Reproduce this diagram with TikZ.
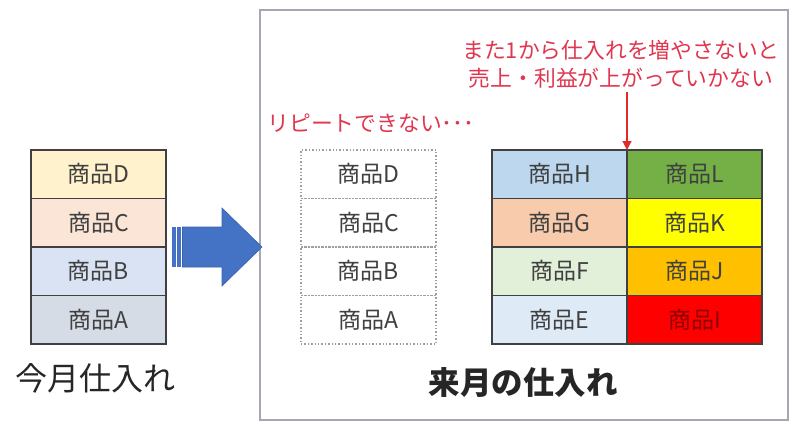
\documentclass[tikz,border=0pt]{standalone}
\usepackage{fontspec}
\setmainfont{Noto Sans CJK JP}
\usepackage{xcolor}
\definecolor{cText}{HTML}{404040}
\definecolor{cFrame}{HTML}{A4A8B4}
\definecolor{cNote}{HTML}{E0364F}
\definecolor{cNoteLine}{HTML}{E02A2A}
\definecolor{cArrow}{HTML}{4472C4}
\definecolor{cD}{HTML}{FFF2CC}
\definecolor{cC}{HTML}{FBE5D6}
\definecolor{cB}{HTML}{DAE3F3}
\definecolor{cA}{HTML}{D6DCE5}
\definecolor{cH}{HTML}{BDD7EE}
\definecolor{cG}{HTML}{F8CBAD}
\definecolor{cF}{HTML}{E2F0D9}
\definecolor{cE}{HTML}{DEEBF7}
\definecolor{cL}{HTML}{74B046}
\definecolor{cK}{HTML}{FFFF00}
\definecolor{cJ}{HTML}{FFC000}
\definecolor{cI}{HTML}{FF0000}
\usepackage{tikz}
\usetikzlibrary{positioning,arrows.meta}
\tikzset{
  item-box/.style={draw=cText,line width=1.4pt,minimum width=135pt,
    minimum height=48.5pt,inner sep=0pt,outer sep=0pt,text=cText,
    font=\fontsize{23}{27}\selectfont},
  item-lost/.style={item-box,draw=gray!75,dotted},
  note-text/.style={text=cNote,inner sep=0pt,align=center,
    font=\fontsize{21.8}{28}\selectfont},
  month-label/.style={text=black!85,inner sep=0pt,
    font=\fontsize{32}{36}\selectfont},
  frame/.style={draw=cFrame,line width=2pt},
  arrow-note/.style={-{Triangle[length=9pt,width=9pt]},line width=1.2pt,draw=cNoteLine},
  arrow-big/.style={fill=cArrow,draw=cArrow!85!black,line width=0.6pt},
}
\begin{document}
\begin{tikzpicture}[x=1pt,y=-1pt]
  \useasboundingbox (0,0) rectangle (800,437);
  \fill[white] (0,0) rectangle (800,437);
  % 今月
  \node[item-box,fill=cD]                (lD) at (98.5,174.25) {商品D};
  \node[item-box,fill=cC,below=0pt of lD] (lC) {商品C};
  \node[item-box,fill=cB,below=0pt of lC] (lB) {商品B};
  \node[item-box,fill=cA,below=0pt of lB] (lA) {商品A};
  \node[month-label] (now) at (96,378) {今月仕入れ};
  % 来月
  \draw[frame] (260,10) rectangle (788,420);
  \node[item-lost,right=135pt of lD] (dD) {商品D};
  \node[item-lost,below=0pt of dD]   (dC) {商品C};
  \node[item-lost,below=0pt of dC]   (dB) {商品B};
  \node[item-lost,below=0pt of dB]   (dA) {商品A};
  \node[item-box,fill=cH,right=56pt of dD] (gH) {商品H};
  \node[item-box,fill=cG,below=0pt of gH]  (gG) {商品G};
  \node[item-box,fill=cF,below=0pt of gG]  (gF) {商品F};
  \node[item-box,fill=cE,below=0pt of gF]  (gE) {商品E};
  \node[item-box,fill=cL,right=0pt of gH]  (gL) {商品L};
  \node[item-box,fill=cK,below=0pt of gL]  (gK) {商品K};
  \node[item-box,fill=cJ,below=0pt of gK]  (gJ) {商品J};
  \node[item-box,fill=cI,text=red!55!black,below=0pt of gJ] (gI) {商品I};
  \node[month-label,font=\fontsize{31.5}{36}\selectfont\bfseries] (next) at (523,383) {来月の仕入れ};
  \node[note-text] (repeat) at (371,123) {リピートできない･･･};
  \node[note-text] (more) at (621,64) {また1から仕入れを増やさないと\\売上・利益が上がっていかない};
  \draw[arrow-note] ([yshift=-4pt]more.south -| gH.north east) -- (gH.north east);
  % 矢印
  \draw[arrow-big] (182.5,227) -- (222,227) -- (222,208) -- (262,247)
    -- (222,286) -- (222,267) -- (182.5,267) -- cycle;
  \fill[cArrow] (172,227) rectangle (175.5,267);
  \fill[cArrow] (177,227) rectangle (181,267);
\end{tikzpicture}
\end{document}
